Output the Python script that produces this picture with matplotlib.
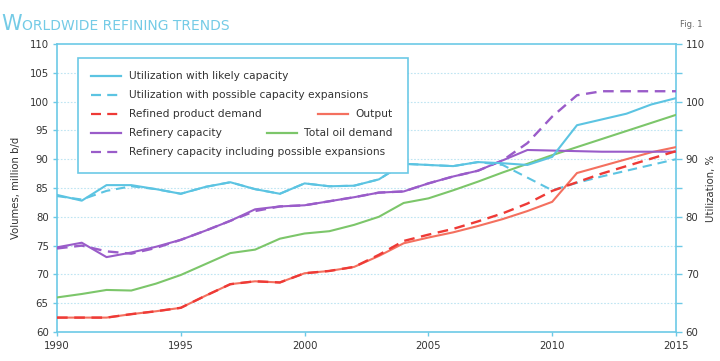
import matplotlib
matplotlib.use("Agg")
import matplotlib.pyplot as plt
from matplotlib.lines import Line2D
from matplotlib.patches import Rectangle

# ---- data ----
years = list(range(1990, 2016))

util_likely = [83.8, 82.8, 85.5, 85.5, 84.8, 84.0, 85.2, 86.0, 84.8, 84.0,
               85.8, 85.3, 85.4, 86.5, 89.2, 89.0, 88.8, 89.5, 89.3, 89.0,
               90.4, 95.9, 96.9, 97.9, 99.5, 100.6]
util_possible = [83.6, 83.0, 84.5, 85.3, 84.8, 84.0, 85.2, 86.0, 84.8, 84.0,
                 85.8, 85.3, 85.4, 86.5, 89.2, 89.0, 88.8, 89.5, 89.0, 86.8,
                 84.6, 85.9, 87.0, 88.0, 89.0, 90.0]
product_demand = [62.5, 62.5, 62.5, 63.1, 63.6, 64.2, 66.3, 68.3, 68.8, 68.6,
                  70.2, 70.6, 71.3, 73.4, 75.8, 76.9, 77.9, 79.2, 80.6, 82.3,
                  84.5, 86.0, 87.5, 88.8, 90.1, 91.4]
output = [62.5, 62.5, 62.5, 63.1, 63.6, 64.2, 66.3, 68.3, 68.8, 68.6,
          70.2, 70.6, 71.3, 73.2, 75.4, 76.4, 77.3, 78.4, 79.6, 81.0,
          82.6, 87.6, 88.8, 90.0, 91.2, 92.1]
capacity = [74.7, 75.5, 73.0, 73.8, 74.8, 76.0, 77.6, 79.3, 81.3, 81.8,
            82.0, 82.7, 83.4, 84.2, 84.4, 85.8, 87.0, 88.0, 89.8, 91.6,
            91.5, 91.4, 91.3, 91.3, 91.3, 91.3]
capacity_possible = [74.5, 75.0, 74.0, 73.6, 74.6, 76.0, 77.6, 79.3, 81.0, 81.8,
                     82.0, 82.7, 83.4, 84.2, 84.4, 85.8, 87.0, 88.0, 89.8, 92.8,
                     97.4, 101.1, 101.8, 101.8, 101.8, 101.8]
oil_demand = [66.0, 66.6, 67.3, 67.2, 68.4, 69.9, 71.8, 73.7, 74.3, 76.2,
              77.1, 77.5, 78.6, 80.0, 82.4, 83.2, 84.6, 86.1, 87.7, 89.2,
              90.7, 92.1, 93.5, 94.9, 96.3, 97.7]

labels = ["Utilization with likely capacity",
          "Utilization with possible capacity expansions",
          "Refined product demand", "Output",
          "Refinery capacity", "Total oil demand",
          "Refinery capacity including possible expansions"]

left_ticks = list(range(60, 111, 5))
right_ticks = list(range(60, 111, 5))
right_ticklabels = [str(v) if v % 10 == 0 else "" for v in right_ticks]
x_ticks = [1990, 1995, 2000, 2005, 2010, 2015]

# ---- colours ----
c_blue = "#5cc4e2"
c_purple = "#9a5cc9"
c_red = "#ee3a36"
c_output = "#f4705f"
c_green = "#7cc66a"
c_axis = "#6cc9e6"
c_grid = "#bfe5f2"
c_title = "#74cbe6"
c_text = "#333333"
dash = (0, (4.5, 2.8))

fig = plt.figure(figsize=(7.2, 3.61), dpi=100)
ax = fig.add_axes([57 / 720, 29 / 361, 619 / 720, 288 / 361])

for y in left_ticks[1:-1]:
    ax.axhline(y, color=c_grid, lw=0.8, ls=(0, (1.5, 1.5)), zorder=0)

lw = 1.5
ax.plot(years, output, color=c_output, lw=lw, zorder=3)
ax.plot(years, product_demand, color=c_red, lw=1.7, ls=dash, zorder=4)
ax.plot(years, oil_demand, color=c_green, lw=lw, zorder=3)
ax.plot(years, capacity_possible, color=c_purple, lw=1.7, ls=dash, zorder=3)
ax.plot(years, capacity, color=c_purple, lw=lw, zorder=3)
ax.plot(years, util_possible, color=c_blue, lw=lw, ls=dash, zorder=3)
ax.plot(years, util_likely, color=c_blue, lw=lw, zorder=3)

ax.set_xlim(1990, 2015)
ax.set_ylim(60, 110)
ax.set_xticks(x_ticks)
ax.set_yticks(left_ticks)
for s in ax.spines.values():
    s.set_color(c_axis)
    s.set_linewidth(1.2)
ax.tick_params(axis="both", colors=c_axis, labelcolor=c_text, labelsize=7.3, length=3, width=1)
ax.tick_params(axis="y", pad=3)
ax.set_ylabel("Volumes, million b/d", fontsize=7.3, color=c_text, labelpad=6)

ax2 = ax.twinx()
ax2.set_ylim(60, 110)
ax2.set_yticks(right_ticks)
ax2.set_yticklabels(right_ticklabels)
for s in ax2.spines.values():
    s.set_visible(False)
ax2.tick_params(axis="y", colors=c_axis, labelcolor=c_text, labelsize=7.3, length=4, width=1, pad=3)
ax2.set_ylabel("Utilization, %", fontsize=7.3, color=c_text, labelpad=1)

# ---- custom legend (5 rows, two with a second entry) ----
box = Rectangle((0.034, 0.552), 0.533, 0.399, transform=ax.transAxes,
                facecolor="white", edgecolor=c_axis, lw=1.2, zorder=5)
ax.add_patch(box)
row_y = [0.889, 0.823, 0.758, 0.692, 0.625]
entries = [
    (0, c_blue, "-", labels[0], "left"),
    (1, c_blue, "--", labels[1], "left"),
    (2, c_red, "--", labels[2], "left"),
    (2, c_output, "-", labels[3], "right"),
    (3, c_purple, "-", labels[4], "left"),
    (3, c_green, "-", labels[5], "right"),
    (4, c_purple, "--", labels[6], "left"),
]
fig.canvas.draw()
renderer = fig.canvas.get_renderer()
inv = ax.transAxes.inverted()
for row, col, style, lab, side in entries:
    y = row_y[row]
    ls = "-" if style == "-" else dash
    if side == "left":
        x0 = (91 - 57) / 619
        ax.add_line(Line2D([x0, x0 + 30 / 619], [y, y], transform=ax.transAxes,
                           color=col, lw=1.6, ls=ls, zorder=6))
        ax.text(x0 + 38 / 619, y, lab, transform=ax.transAxes, fontsize=7.7,
                color=c_text, va="center", ha="left", zorder=6)
    else:
        xr = (393 - 57) / 619
        t = ax.text(xr, y, lab, transform=ax.transAxes, fontsize=7.7,
                    color=c_text, va="center", ha="right", zorder=6)
        bb = t.get_window_extent(renderer)
        xl = inv.transform((bb.x0, 0))[0]
        ax.add_line(Line2D([xl - 38 / 619, xl - 8 / 619], [y, y], transform=ax.transAxes,
                           color=col, lw=1.6, ls=ls, zorder=6))

# ---- title ----
tw = fig.text(1 / 720, 1 - 30 / 361, "W", fontsize=15, color=c_title,
              va="baseline", ha="left")
bb = tw.get_window_extent(renderer)
fig.text(bb.x1 / 720, 1 - 30 / 361, "ORLDWIDE REFINING TRENDS", fontsize=10,
         color=c_title, va="baseline", ha="left")
fig.text(703 / 720, 1 - 27 / 361, "Fig. 1", fontsize=6, color="#666666",
         va="baseline", ha="right")

fig.savefig("out.png", dpi=100)
